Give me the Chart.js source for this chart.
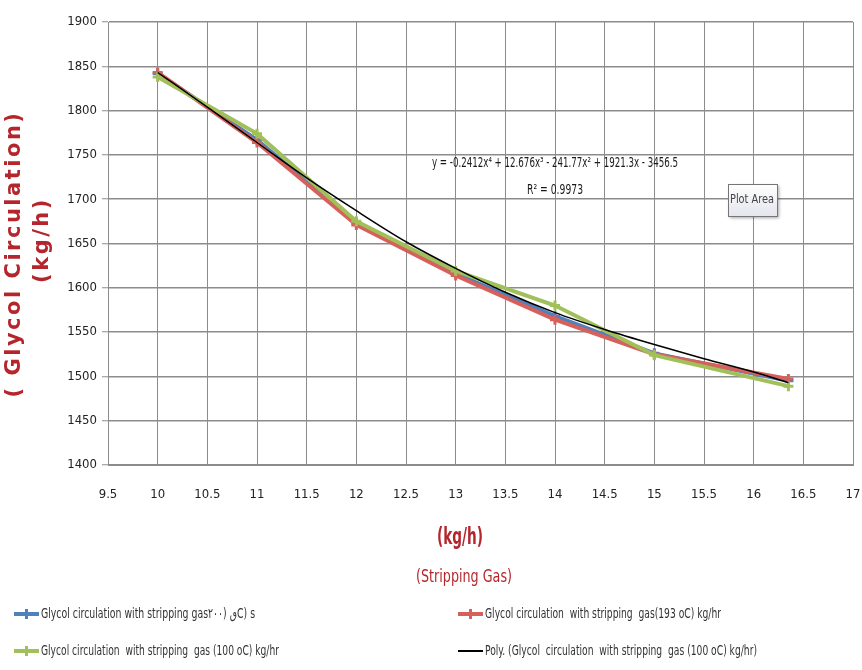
<!DOCTYPE html>
<html>
<head>
<meta charset="utf-8">
<script src="https://cdn.jsdelivr.net/npm/chart.js@4/dist/chart.umd.min.js"></script>
<style>
body { margin: 0; background: #fff; }
canvas { display: block; }
</style>
</head>
<body>
<canvas id="glycolChart" width="862" height="670"></canvas>
<script>
"use strict";

// stripping gas (kg/h) on x, glycol circulation (kg/h) on y
const strippingGas = [10, 11, 12, 13, 14, 15, 16.35];
const glycolAt200 = [1842, 1767, 1673, 1616, 1568, 1526, 1495];
const glycolAt193 = [1843, 1764, 1671, 1614, 1564, 1525, 1497];
const glycolAt100 = [1838, 1774, 1675, 1619, 1580, 1524, 1489];
const trendStrippingGas = [10, 10.5, 11, 11.5, 12, 12.5, 13, 13.5, 14, 14.5, 15, 15.5, 16, 16.35];
const trendGlycolAt100 = [1843, 1804, 1764, 1724, 1687, 1652, 1622, 1595, 1572, 1553, 1536, 1520, 1505, 1493];

const seriesLabels = [
	"Glycol circulation with stripping gas۲۰۰) ٯC) s",
	"Glycol circulation  with stripping  gas(193 oC) kg/hr",
	"Glycol circulation  with stripping  gas (100 oC) kg/hr",
	"Poly. (Glycol  circulation  with stripping  gas (100 oC) kg/hr)"
];
const equationLines = ["y = -0.2412x⁴ + 12.676x³ - 241.77x² + 1921.3x - 3456.5", "R² = 0.9973"];
const xTitleLines = ["(kg/h)", "(Stripping Gas)"];
const yTitleLines = ["( Glycol Circulation)", "(kg/h)"];

const narrowFont = "'Liberation Sans Narrow', 'Arial Narrow', 'DejaVu Sans Condensed', sans-serif";
const titleRed = "#b5262c";
const gridGray = "#8c8c8c";

const toPoints = (xs, ys) => xs.map((x, index) => ({x: x, y: ys[index]}));

const drawLegendMarker = (ctx, x, y, dataset) => {
	ctx.strokeStyle = dataset.borderColor;
	ctx.lineWidth = dataset.pointRadius ? 4 : 2;
	ctx.beginPath();
	ctx.moveTo(x, y);
	ctx.lineTo(x + 25, y);
	ctx.stroke();
	if (dataset.pointRadius) {
		ctx.lineWidth = 3;
		ctx.beginPath();
		ctx.moveTo(x + 12.5, y - 5);
		ctx.lineTo(x + 12.5, y + 5);
		ctx.stroke();
	}
};

const drawRotatedTitle = (ctx, text, x, y) => {
	ctx.save();
	ctx.fillStyle = titleRed;
	ctx.font = "bold 21px 'DejaVu Sans', sans-serif";
	ctx.letterSpacing = "2.5px";
	ctx.translate(x, y);
	ctx.rotate(-Math.PI / 2);
	ctx.fillText(text, 0, 0);
	ctx.restore();
};

const annotationsPlugin = {
	id: "annotations",
	afterDraw: chart => {
		let ctx = chart.ctx;
		ctx.save();
		ctx.textAlign = "center";
		ctx.textBaseline = "middle";
		// y axis title, drawn by hand for the letter spacing
		drawRotatedTitle(ctx, yTitleLines[0], 15, 254);
		drawRotatedTitle(ctx, yTitleLines[1], 43, 240);
		// trendline equation
		ctx.fillStyle = "#1a1a1a";
		ctx.font = `14px ${narrowFont}`;
		ctx.fillText(equationLines[0], 555, 163, 246);
		ctx.fillText(equationLines[1], 555, 190, 56);
		// "Plot Area" hover box left in the screenshot
		ctx.shadowColor = "rgba(0, 0, 0, 0.35)";
		ctx.shadowOffsetX = 2;
		ctx.shadowOffsetY = 2;
		ctx.shadowBlur = 3;
		let boxGradient = ctx.createLinearGradient(0, 184, 0, 216);
		boxGradient.addColorStop(0, "#ffffff");
		boxGradient.addColorStop(1, "#e4e5ee");
		ctx.fillStyle = boxGradient;
		ctx.fillRect(728, 184, 49, 32);
		ctx.shadowColor = "transparent";
		ctx.strokeStyle = "#767676";
		ctx.lineWidth = 1;
		ctx.strokeRect(728.5, 184.5, 49, 32);
		ctx.fillStyle = "#444";
		ctx.font = `13px ${narrowFont}`;
		ctx.fillText("Plot Area", 752, 200, 44);
		// x axis title
		ctx.fillStyle = titleRed;
		ctx.font = `bold 23px ${narrowFont}`;
		ctx.fillText(xTitleLines[0], 460, 538, 46);
		ctx.font = `18px ${narrowFont}`;
		ctx.fillText(xTitleLines[1], 464, 577, 96);
		// legend in two columns
		let columns = [14, 458];
		let rows = [614, 651];
		let maxWidths = [[214, 236], [238, 272]];
		ctx.textAlign = "left";
		ctx.font = `14px ${narrowFont}`;
		chart.data.datasets.forEach((dataset, index) => {
			let x = columns[index % 2];
			let y = rows[Math.floor(index / 2)];
			drawLegendMarker(ctx, x, y, dataset);
			ctx.fillStyle = "#333";
			ctx.fillText(dataset.label, x + 27, y, maxWidths[Math.floor(index / 2)][index % 2]);
		});
		ctx.restore();
	}
};

const buildChart = () => {
	let canvas = document.querySelector("canvas#glycolChart");
	let seriesStyle = (color, order) => ({
		borderColor: color,
		backgroundColor: color,
		borderWidth: 4,
		pointStyle: "cross",
		pointRadius: 5,
		pointBorderWidth: 3,
		tension: 0,
		order: order
	});
	new Chart(canvas, {
		type: "line",
		data: {
			datasets: [
				{label: seriesLabels[0], data: toPoints(strippingGas, glycolAt200), ...seriesStyle("#4f81bd", 3)},
				{label: seriesLabels[1], data: toPoints(strippingGas, glycolAt193), ...seriesStyle("#d6605c", 2)},
				{label: seriesLabels[2], data: toPoints(strippingGas, glycolAt100), ...seriesStyle("#a2c05a", 1)},
				{
					label: seriesLabels[3],
					data: toPoints(trendStrippingGas, trendGlycolAt100),
					borderColor: "#000000",
					backgroundColor: "#000000",
					borderWidth: 1.5,
					pointRadius: 0,
					cubicInterpolationMode: "monotone",
					order: 0
				}
			]
		},
		options: {
			responsive: false,
			animation: false,
			layout: {
				padding: {top: 22, right: 9, left: 0, bottom: 0}
			},
			scales: {
				x: {
					type: "linear",
					min: 9.5,
					max: 17,
					afterFit: scale => {
						scale.height = 205;
						scale.paddingLeft = 0;
						scale.paddingRight = 0;
					},
					ticks: {
						stepSize: 0.5,
						padding: 22,
						color: "#222",
						font: {family: narrowFont, size: 13},
						callback: value => value.toString()
					},
					grid: {
						color: gridGray,
						lineWidth: 1,
						drawTicks: false
					},
					border: {color: gridGray, width: 1}
				},
				y: {
					min: 1400,
					max: 1900,
					afterFit: scale => {
						scale.width = 108;
						scale.paddingTop = 0;
						scale.paddingBottom = 0;
					},
					ticks: {
						stepSize: 50,
						padding: 5,
						color: "#222",
						font: {family: narrowFont, size: 13},
						callback: value => value.toString()
					},
					grid: {
						color: gridGray,
						lineWidth: 1.5,
						tickLength: 6,
						tickColor: gridGray,
						tickWidth: 1
					},
					border: {color: gridGray, width: 1}
				}
			},
			plugins: {
				legend: {display: false},
				tooltip: {enabled: false}
			}
		},
		plugins: [annotationsPlugin]
	});
};

buildChart();
</script>
</body>
</html>
